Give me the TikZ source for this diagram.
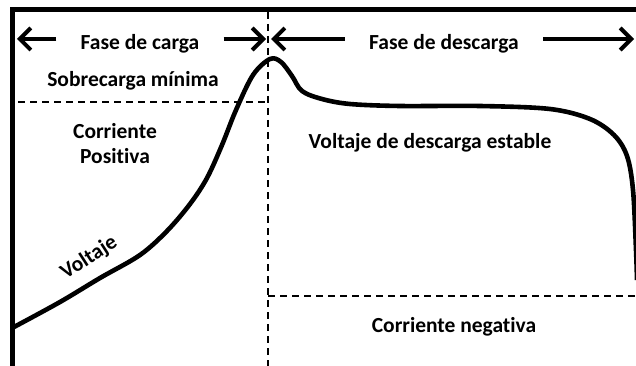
\documentclass[tikz,border=0pt]{standalone}
\usepackage{fontspec}
\setmainfont[Ligatures=NoCommon]{Carlito}
\usetikzlibrary{arrows.meta}

\begin{document}
\begin{tikzpicture}[x=1pt,y=-1pt,
      txt/.style={font=\fontsize{21.5}{25}\selectfont\bfseries,align=center},
      phase/.style={txt,inner xsep=24pt},
      barb/.style={line width=4pt,-{Straight Barb[length=11pt,width=22pt]}},
      frame/.style={line width=5pt},
      curve/.style={line width=4.6pt,line join=round},
      divide/.style={line width=1.8pt,dash pattern=on 7pt off 5pt}]
    \useasboundingbox (0,0) rectangle (636,366);
    % axes
    \coordinate (tl) at (12,10);
    \coordinate (tr) at (640,10);
    \coordinate (bl) at (12,370);
    \draw[frame] (tr) -- (tl) -- (bl);
    % phase split
    \coordinate (st) at (268,12);
    \coordinate (sb) at (268,366);
    \coordinate (ul) at (18,102);
    \coordinate (lr) at (636,296);
    \draw[divide] (st) -- (sb);
    \draw[divide] (ul) -- (ul -| st);
    \draw[divide] (lr -| st) -- (lr);
    % phases
    \node[phase] (carga) at (140,44) {Fase de carga};
    \node[phase] (descarga) at (444,44) {Fase de descarga};
    \coordinate (cl) at (17,39);
    \coordinate (cr) at (266,39);
    \coordinate (dl) at (271,39);
    \coordinate (dr) at (634,39);
    \draw[barb] (carga.west |- cl) -- (cl);
    \draw[barb] (carga.east |- cr) -- (cr);
    \draw[barb] (descarga.west |- dl) -- (dl);
    \draw[barb] (descarga.east |- dr) -- (dr);
    % labels
    \node[txt] (sobre) at (133,81) {Sobrecarga mínima};
    \node[txt] (pos) at (115,144) {Corriente\\Positiva};
    \node[txt] (estable) at (430,143) {Voltaje de descarga estable};
    \node[txt] (neg) at (454,327) {Corriente negativa};
    \node[txt,rotate=33,inner sep=0pt] (volt) at (89,258) {Voltaje};
    % voltage
    \draw[curve] plot[smooth,tension=0.55] coordinates {(14,327) (60,302) (100,278)
      (140,255) (167,231) (190,204) (207,178) (222,145) (236,110) (253,75)
      (270,59) (281,62) (292,76) (302,91) (322,99) (350,104) (400,106)
      (480,106) (550,109) (590,119) (614,135) (627,156) (633,190) (636,250) (637,280)};
\end{tikzpicture}
\end{document}
